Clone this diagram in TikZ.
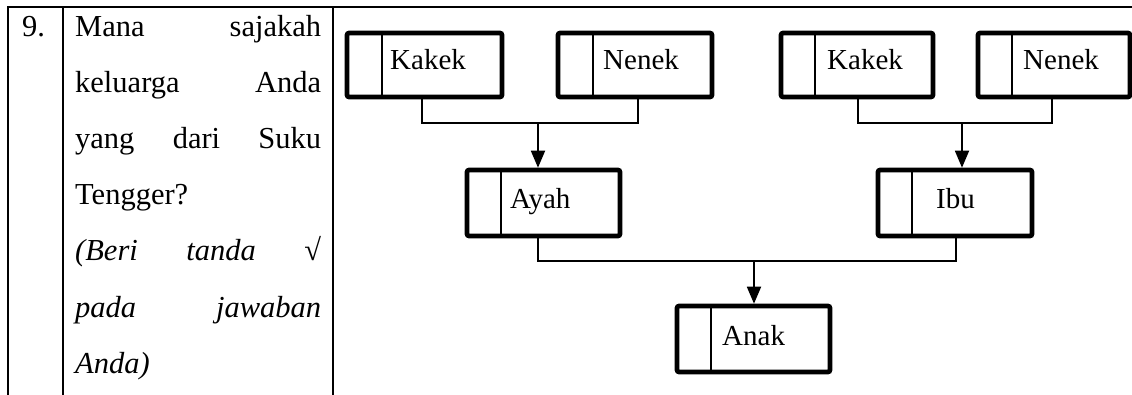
\documentclass[tikz,border=0pt]{standalone}
\usepackage{fontspec}
\setmainfont{Liberation Serif}
\usetikzlibrary{arrows.meta}
\begin{document}
\begin{tikzpicture}[x=1pt,y=-1pt,
  tab/.style={line width=2.4pt},
  fam/.style={draw, line width=4.6pt, rounded corners=2pt, rectangle, minimum height=64pt, inner sep=0pt},
  divider/.style={line width=1.5pt},
  conn/.style={line width=1.5pt},
  arr/.style={line width=1.8pt, -{Triangle[length=17pt,width=14pt]}},
  qtext/.style={anchor=base west, inner sep=0pt, font=\fontsize{30.5}{36}\selectfont},
  btext/.style={anchor=base west, inner sep=0pt, font=\fontsize{29}{34}\selectfont}]
\useasboundingbox (0,0) rectangle (1132,395);
% table lines
\draw[tab] (8,395) -- (8,7) -- (1132,7);
\draw[tab] (63,7) -- (63,395);
\draw[tab] (333,7) -- (333,395);
% question text
\node[qtext] (num) at (22,37) {9.};
\node[qtext] (q1) at (75,37) {\makebox[246pt][l]{Mana\hfill sajakah}};
\node[qtext] (q2) at (75,93) {\makebox[246pt][l]{keluarga\hfill Anda}};
\node[qtext] (q3) at (75,149) {\makebox[246pt][l]{yang\hfill dari\hfill Suku}};
\node[qtext] (q4) at (75,205) {Tengger?};
\node[qtext] (q5) at (75,261) {\makebox[246pt][l]{\itshape (Beri\hfill tanda\hfill \upshape √}};
\node[qtext] (q6) at (75,317) {\makebox[246pt][l]{\itshape pada\hfill jawaban}};
\node[qtext] (q7) at (75,373) {\itshape Anda)};
% boxes
\node[fam, minimum width=155pt] (kakek1) at (424.5,65) {};
\node[fam, minimum width=154pt] (nenek1) at (635,65) {};
\node[fam, minimum width=152pt] (kakek2) at (857,65) {};
\node[fam, minimum width=152pt] (nenek2) at (1054,65) {};
\node[fam, minimum width=153pt, minimum height=66pt] (ayah) at (543.5,203) {};
\node[fam, minimum width=154pt, minimum height=66pt] (ibu) at (955,203) {};
\node[fam, minimum width=153pt, minimum height=66pt] (anak) at (753.5,339) {};
% dividers
\draw[divider] (382,33) -- (382,97);
\draw[divider] (593,33) -- (593,97);
\draw[divider] (815,33) -- (815,97);
\draw[divider] (1012,33) -- (1012,97);
\draw[divider] (501,172) -- (501,234);
\draw[divider] (912,172) -- (912,234);
\draw[divider] (711,308) -- (711,370);
% labels
\node[btext] (tk1) at (390,70) {Kakek};
\node[btext] (tn1) at (603,70) {Nenek};
\node[btext] (tk2) at (827,70) {Kakek};
\node[btext] (tn2) at (1023,70) {Nenek};
\node[btext] (ta) at (510,209) {Ayah};
\node[btext] (ti) at (936,209) {Ibu};
\node[btext] (tc) at (722,345) {Anak};
% connectors
\coordinate (j1) at (538,123);
\coordinate (j2) at (962,123);
\coordinate (j3) at (754,261);
\draw[conn] ([xshift=-2.5pt]kakek1.south) |- (j1) -| ([xshift=3pt]nenek1.south);
\draw[arr] (j1) -- (ayah.north -| j1);
\draw[conn] ([xshift=1pt]kakek2.south) |- (j2) -| ([xshift=-2pt]nenek2.south);
\draw[arr] (j2) -- (ibu.north -| j2);
\draw[conn] (ayah.south -| j1) |- (j3) -| ([xshift=1pt]ibu.south);
\draw[arr] (j3) -- (anak.north -| j3);
\end{tikzpicture}
\end{document}
